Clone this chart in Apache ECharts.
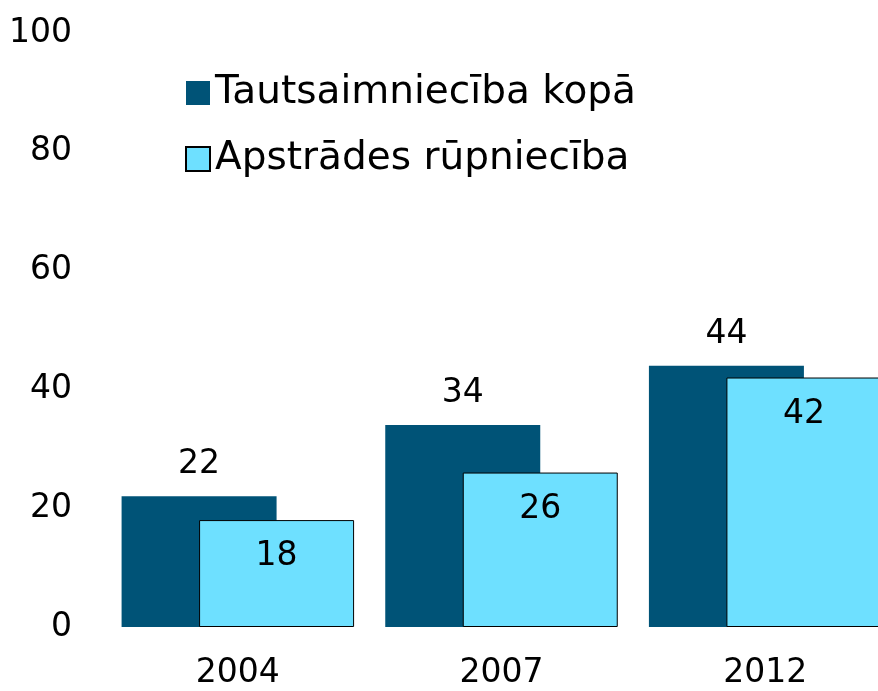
<!DOCTYPE html>
<html>
<head>
<meta charset="utf-8">
<script src="https://cdn.jsdelivr.net/npm/echarts@6/dist/echarts.min.js"></script>
<style>
  html, body { margin: 0; padding: 0; background: #fff; overflow: hidden; }
  /* the reference crops the last bar at the right edge, so the canvas is wider than the window */
  #chart { width: 897px; height: 691px; }
</style>
</head>
<body>
<div id="chart"></div>
<script>
const years = ['2004', '2007', '2012'];
const totalEconomy = [22, 34, 44];
const manufacturing = [18, 26, 42];
const seriesNames = ['Tautsaimniecība kopā', 'Apstrādes rūpniecība'];

const FONT = 'DejaVu Sans';

const chart = echarts.init(document.getElementById('chart'));
chart.setOption({
    animation: false,
    backgroundColor: '#ffffff',
    textStyle: { fontFamily: FONT, color: '#000' },
    grid: { left: 106, right: 0, top: 33, bottom: 64 },
    legend: {
        orient: 'vertical',
        left: 180,
        top: 67,
        itemWidth: 24,
        itemHeight: 24,
        itemGap: 24,
        icon: 'rect',
        textStyle: { fontFamily: FONT, fontSize: 39, color: '#000', lineHeight: 42 },
        data: seriesNames
    },
    xAxis: {
        type: 'category',
        data: years,
        axisLine: { show: false },
        axisTick: { show: false },
        axisLabel: { fontSize: 33, color: '#000', margin: 30, fontFamily: FONT }
    },
    yAxis: {
        type: 'value',
        min: 0,
        max: 100,
        interval: 20,
        splitLine: { show: false },
        axisLine: { show: false },
        axisTick: { show: false },
        axisLabel: { fontSize: 33, color: '#000', margin: 34, fontFamily: FONT }
    },
    series: [
        {
            name: seriesNames[0],
            type: 'bar',
            data: totalEconomy,
            barWidth: 155,
            barGap: '-50%',
            itemStyle: { color: '#005377' },
            label: { show: true, position: 'top', distance: 15, fontSize: 33, color: '#000', fontFamily: FONT }
        },
        {
            name: seriesNames[1],
            type: 'bar',
            data: manufacturing,
            barWidth: 155,
            itemStyle: { color: '#6ee0ff', borderColor: '#000', borderWidth: 1 },
            label: { show: true, position: 'insideTop', distance: 20, fontSize: 33, color: '#000', fontFamily: FONT }
        }
    ]
});
</script>
</body>
</html>
